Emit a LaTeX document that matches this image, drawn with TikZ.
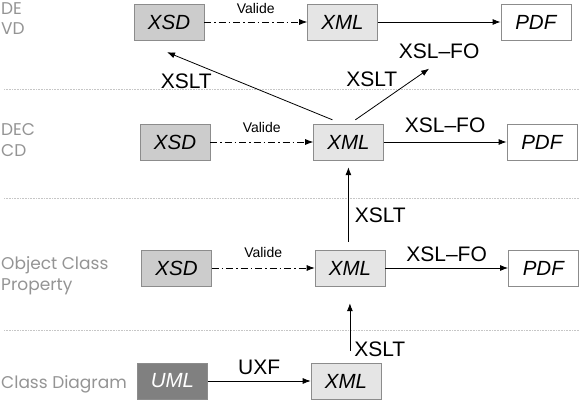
\documentclass[tikz,border=0pt]{standalone}
\usepackage{fontspec}
\setmainfont{Liberation Sans}
\newfontfamily\gothic{Poppins}
\usetikzlibrary{arrows.meta,positioning}
\definecolor{xsdfill}{gray}{0.80}
\definecolor{xmlfill}{gray}{0.90}
\definecolor{umlfill}{gray}{0.50}
\definecolor{boxline}{gray}{0.55}
\definecolor{rowtext}{gray}{0.58}

\begin{document}
\begin{tikzpicture}[
  x=1pt, y=-1pt,
  node distance=103pt,
  filebox/.style={
    draw=boxline,
    fill=white,
    minimum width=70pt,
    minimum height=36pt,
    inner sep=0pt,
    font=\fontsize{20.5}{24}\selectfont\itshape
  },
  xsdbox/.style={filebox, fill=xsdfill},
  xmlbox/.style={filebox, fill=xmlfill},
  umlbox/.style={filebox, fill=umlfill, text=white},
  rowlabel/.style={
    anchor=base west,
    align=left,
    inner sep=0pt,
    text=rowtext,
    font=\gothic\fontsize{17}{20.5}\selectfont
  },
  tool/.style={font=\fontsize{21}{24}\selectfont, inner sep=2pt},
  valide/.style={font=\fontsize{14}{16}\selectfont, inner sep=2pt},
  arrow/.style={-{Latex[length=8pt,width=6pt]}, line width=0.8pt},
  validarrow/.style={arrow, dash pattern=on 7pt off 3pt on 1.5pt off 3pt},
  sepline/.style={draw=gray!45, line width=0.6pt, dash pattern=on 0.6pt off 1pt}
]
\useasboundingbox (0,0) rectangle (580,401);

% layer separators
\foreach \y in {89,198,330}
  \draw[sepline] (4,\y) -- (580,\y);

% layer names (base = last line)
\node[rowlabel] (rowA) at (1,35) {DE\\VD};
\node[rowlabel] (rowB) at (1,156) {DEC\\CD};
\node[rowlabel] (rowC) at (1,290) {Object Class\\Property};
\node[rowlabel] (rowD) at (1,388) {Class Diagram};

% DE / VD
\node[xsdbox] (xsd1) at (169,22) {XSD};
\node[xmlbox, right=of xsd1] (xml1) {XML};
\node[filebox, right=123pt of xml1] (pdf1) {PDF};

% DEC / CD
\node[xsdbox] (xsd2) at (175,142) {XSD};
\node[xmlbox, right=of xsd2] (xml2) {XML};
\node[filebox, right=123pt of xml2] (pdf2) {PDF};

% Object Class Property
\node[xsdbox] (xsd3) at (176.5,268) {XSD};
\node[xmlbox, right=of xsd3] (xml3) {XML};
\node[filebox, right=123pt of xml3] (pdf3) {PDF};

% Class Diagram
\node[umlbox] (uml) at (172.5,381) {UML};
\node[xmlbox, right=of uml] (xml4) {XML};

\draw[validarrow] (xsd1) -- node[valide, above=6pt] {Valide} (xml1);
\draw[arrow] (xml1) -- node[tool, below=19pt] (fo1) {XSL–FO} (pdf1);

\draw[validarrow] (xsd2) -- node[valide, above=7pt] {Valide} (xml2);
\draw[arrow] (xml2) -- node[tool, above=7pt] {XSL–FO} (pdf2);
\draw[arrow] ([xshift=-16pt,yshift=4pt]xml2.north) -- node[tool, pos=0.715, anchor=north east] {XSLT} ([xshift=-2pt,yshift=-12pt]xsd1.south);
\draw[arrow] ([xshift=7pt,yshift=4pt]xml2.north) -- node[tool, pos=0.6, anchor=south east] {XSLT} ([xshift=-10pt,yshift=-8pt]fo1.south);

\draw[validarrow] (xsd3) -- node[valide, above=8pt] {Valide} (xml3);
\draw[arrow] (xml3) -- node[tool, above=4pt] {XSL–FO} (pdf3);
\draw[arrow, shorten <=8pt, shorten >=7pt] (xml3.north -| xml2.south) -- node[tool, pos=0.38, right=4pt] {XSLT} (xml2.south);

\draw[arrow] (uml) -- node[tool, above=4pt] {UXF} (xml4);
\draw[arrow, shorten <=12pt, shorten >=17pt] (xml4.north -| xml3.south) -- node[tool, pos=0.18, right=2pt] {XSLT} (xml3.south);
\end{tikzpicture}
\end{document}
